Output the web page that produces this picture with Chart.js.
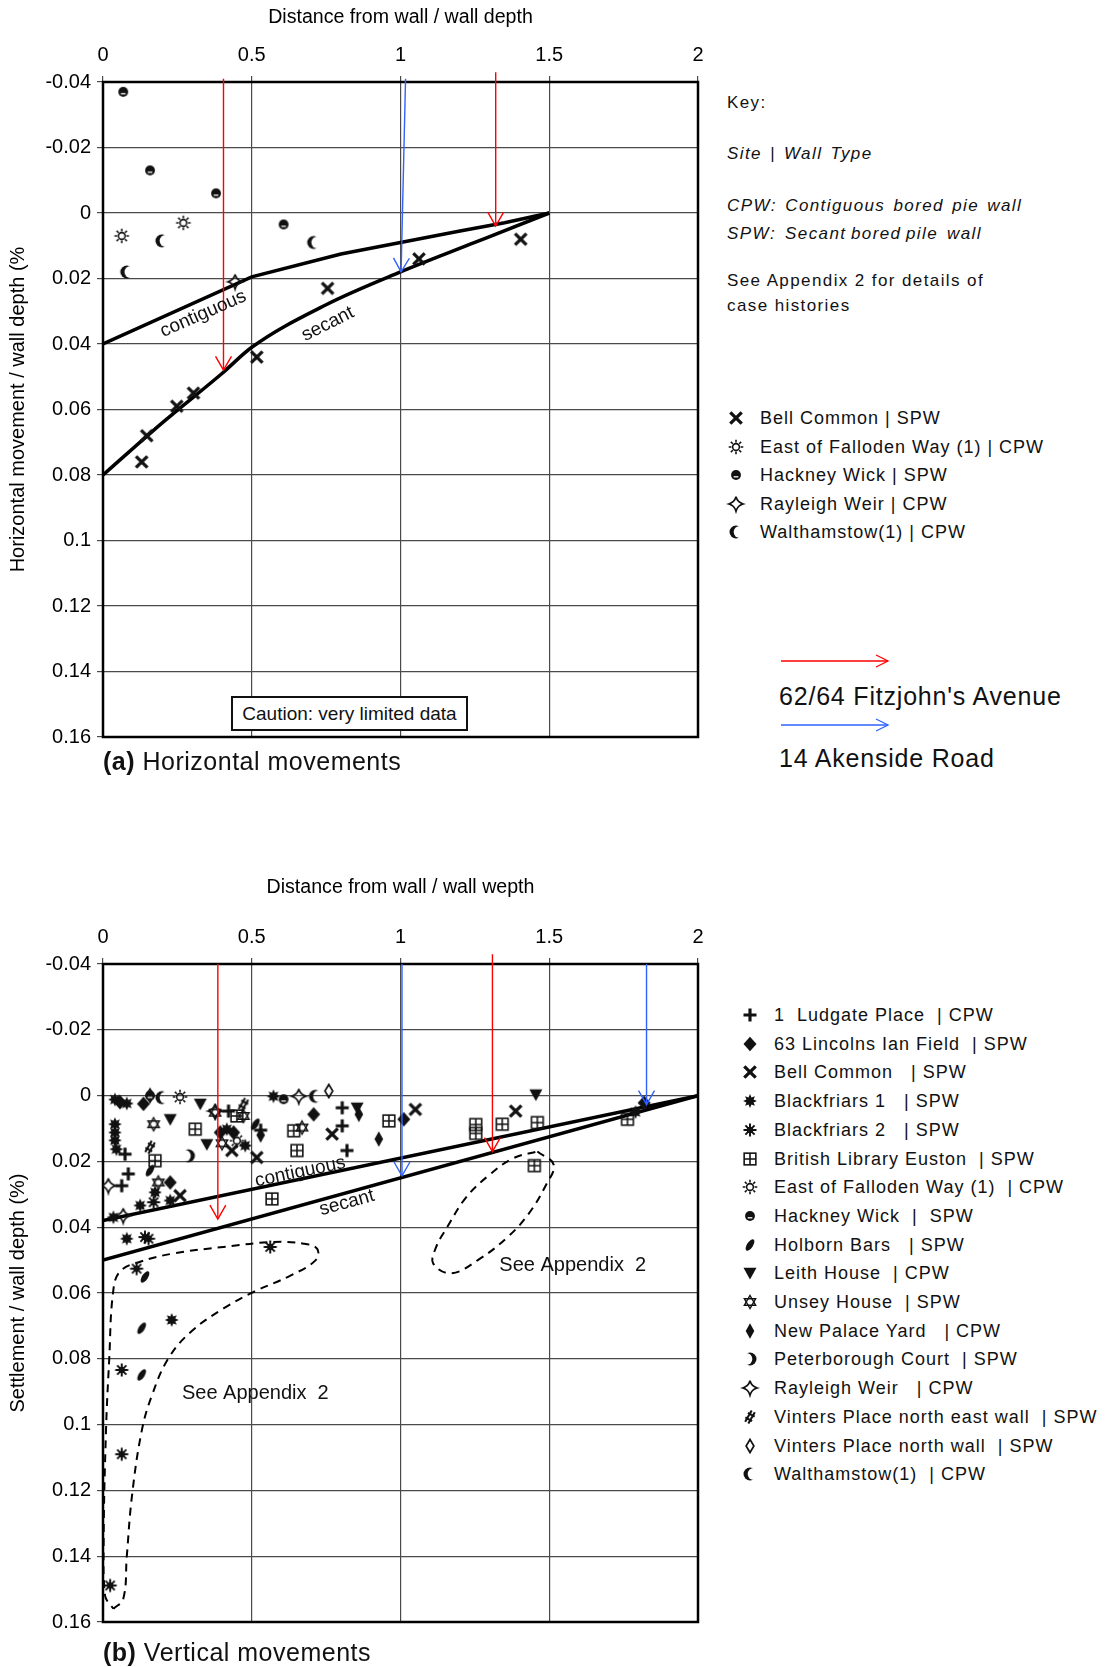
<!DOCTYPE html>
<html>
<head>
<meta charset="utf-8">
<script src="https://cdn.jsdelivr.net/npm/chart.js@4.4.1/dist/chart.umd.min.js"></script>
<style>
  body { margin: 0; background: #fff; font-family: 'Liberation Sans', Arial, sans-serif; color: #111; }
  #page { position: relative; width: 1109px; height: 1667px; overflow: hidden; background: #fff; }
  canvas.plot { position: absolute; left: 0; }
  .txt { position: absolute; white-space: pre; line-height: 1; }
  .key { font-size: 17px; letter-spacing: 1.4px; }
  .it { font-style: italic; }
  .item { position: absolute; white-space: pre; font-size: 18px; line-height: 1; letter-spacing: 1px; }
  .item img { position: absolute; left: -24px; top: 50%; transform: translate(-50%, -50%); }
  .panel { font-size: 25px; letter-spacing: 0.5px; }
  .big { font-size: 25px; letter-spacing: 0.8px; }
  .caution { position: absolute; left: 231px; top: 696px; width: 233px; height: 31px; border: 2px solid #111;
             background: #fff; font-size: 19px; line-height: 31px; text-align: center; }
</style>
</head>
<body>
<div id="page">
  <canvas id="chartA" class="plot" width="720" height="755" style="top:0"></canvas>
  <canvas id="chartB" class="plot" width="720" height="770" style="top:870px"></canvas>

  <div class="caution">Caution: very limited data</div>

  <div class="txt panel" style="left:103px; top:749px"><b>(a)</b> Horizontal movements</div>
  <div class="txt panel" style="left:103px; top:1640px"><b>(b)</b> Vertical movements</div>

  <div class="txt key" style="left:727px; top:94px">Key:</div>
  <div class="txt key it" style="left:727px; top:145px; word-spacing:2px">Site | Wall Type</div>
  <div class="txt key it" style="left:727px; top:197px; word-spacing:-2px">CPW:  Contiguous  bored  pie  wall</div>
  <div class="txt key it" style="left:727px; top:225px; word-spacing:-1.6px">SPW:  Secant bored pile  wall</div>
  <div class="txt key" style="left:727px; top:272px">See Appendix 2 for details of</div>
  <div class="txt key" style="left:727px; top:297px">case histories</div>

  <svg style="position:absolute; left:770px; top:650px" width="130" height="90">
    <line x1="11" y1="11" x2="118" y2="11" stroke="#ff0000" stroke-width="1.3"/>
    <polyline points="106,5 118,11 106,17" fill="none" stroke="#ff0000" stroke-width="1.3"/>
    <line x1="11" y1="75" x2="118" y2="75" stroke="#2f62ff" stroke-width="1.3"/>
    <polyline points="106,69 118,75 106,81" fill="none" stroke="#2f62ff" stroke-width="1.3"/>
  </svg>
  <div class="txt big" style="left:779px; top:684px">62/64 Fitzjohn's Avenue</div>
  <div class="txt big" style="left:779px; top:746px">14 Akenside Road</div>

  <div id="legendA"></div>
  <div id="legendB"></div>
</div>

<script>
// ---- panel (a): horizontal movements ----
const topNames = ['Bell Common | SPW', 'East of Falloden Way (1) | CPW', 'Hackney Wick | SPW', 'Rayleigh Weir | CPW', 'Walthamstow(1) | CPW'];
const topBellCommon = [[0.755, 0.023], [1.062, 0.014], [1.404, 0.008], [0.517, 0.044], [0.304, 0.055], [0.248, 0.059], [0.147, 0.068], [0.13, 0.076]];
const topFalloden = [[0.063, 0.007], [0.27, 0.003]];
const topHackney = [[0.068, -0.037], [0.158, -0.013], [0.38, -0.006], [0.607, 0.0035]];
const topRayleigh = [[0.444, 0.021]];
const topWalthamstow = [[0.198, 0.0085], [0.08, 0.018], [0.708, 0.009]];
const topContiguous = [[0, 0.04], [0.5, 0.0195], [0.8, 0.0125], [1.0, 0.009], [1.2, 0.0055], [1.35, 0.003], [1.5, 0]];
const topSecant = [[0, 0.08], [0.2, 0.064], [0.4, 0.049], [0.5, 0.041], [0.75, 0.028], [1.0, 0.018], [1.25, 0.009], [1.5, 0]];
const topRedArrows = [[[0.405, -0.041], [0.405, 0.048]], [[1.32, -0.043], [1.32, 0.004]]];
const topBlueArrows = [[[1.017, -0.041], [1.002, 0.018]]];

// ---- panel (b): vertical movements ----
const botNames = ['1  Ludgate Place  | CPW', '63 Lincolns Ian Field  | SPW', 'Bell Common   | SPW', 'Blackfriars 1   | SPW',
  'Blackfriars 2   | SPW', 'British Library Euston  | SPW', 'East of Falloden Way (1)  | CPW', 'Hackney Wick  |  SPW',
  'Holborn Bars   | SPW', 'Leith House  | CPW', 'Unsey House  | SPW', 'New Palace Yard   | CPW', 'Peterborough Court  | SPW',
  'Rayleigh Weir   | CPW', 'Vinters Place north east wall  | SPW', 'Vinters Place north wall  | SPW', 'Walthamstow(1)  | CPW'];
const botLudgate = [[0.074, 0.0178], [0.085, 0.0238], [0.063, 0.0274], [0.422, 0.0047], [0.804, 0.0037], [0.804, 0.0092], [0.82, 0.0167], [0.53, 0.0105]];
const botLincolns = [[0.226, 0.0264], [0.708, 0.0057], [1.011, 0.0072], [0.394, 0.0112], [0.439, 0.0112], [0.136, 0.0025], [0.057, 0.002], [1.819, 0.0022]];
const botBellCommon = [[0.259, 0.0304], [0.77, 0.0117], [1.05, 0.0042], [1.387, 0.0047], [0.517, 0.0188], [0.433, 0.0167]];
const botBlackfriars1 = [[0.04, 0.0012], [0.08, 0.0024], [0.04, 0.0087], [0.04, 0.0112], [0.04, 0.0136], [0.045, 0.0163], [0.125, 0.0334],
  [0.175, 0.0294], [0.226, 0.0319], [0.08, 0.0435], [0.231, 0.0682], [0.416, 0.0102], [0.478, 0.0152], [0.573, 0.0002], [1.79, 0.005], [0.035, 0.037]];
const botBlackfriars2 = [[0.153, 0.0435], [0.113, 0.0526], [0.562, 0.046], [0.063, 0.0834], [0.063, 0.109], [0.024, 0.1489], [0.17, 0.0324], [0.141, 0.043]];
const botBritishLib = [[0.31, 0.0102], [0.45, 0.0062], [0.175, 0.0198], [0.641, 0.0107], [0.652, 0.0167], [0.568, 0.0314], [0.961, 0.0077],
  [1.253, 0.0088], [1.253, 0.0115], [1.342, 0.0087], [1.46, 0.0082], [1.45, 0.0213], [1.763, 0.0072]];
const botFalloden = [[0.259, 0.0004], [0.45, 0.0137]];
const botHackney = [[0.607, 0.0011], [0.158, 0.0]];
const botHolborn = [[0.13, 0.0707], [0.13, 0.0849], [0.141, 0.0551], [0.512, 0.0087], [0.158, 0.0228]];
const botLeith = [[0.327, 0.0025], [0.226, 0.0072], [0.349, 0.0148], [1.455, -0.0003], [0.854, 0.0037]];
const botUnsey = [[0.186, 0.0264], [0.472, 0.0062], [0.17, 0.0087], [0.669, 0.0097], [0.377, 0.0052], [0.4, 0.0145]];
const botNewPalace = [[0.927, 0.0132], [0.86, 0.0057], [0.53, 0.012]];
const botPeterborough = [[0.287, 0.0183]];
const botRayleigh = [[0.018, 0.0274], [0.068, 0.0365], [0.658, 0.0002], [0.377, 0.0047]];
const botVintersNE = [[0.158, 0.0157], [0.472, 0.0027]];
const botVintersN = [[0.759, -0.0014], [0.158, 0.0]];
const botWalthamstow = [[0.198, 0.0006], [0.714, 0.0002]];
const botContiguous = [[0, 0.038], [2, 0]];
const botSecant = [[0, 0.05], [2, 0]];
const botBigLoop = [[0.035, 0.156], [0.068, 0.153], [0.08, 0.14], [0.097, 0.122], [0.13, 0.102], [0.165, 0.091], [0.219, 0.08], [0.293, 0.072],
  [0.405, 0.0647], [0.506, 0.0597], [0.63, 0.0547], [0.715, 0.05], [0.72, 0.0466], [0.675, 0.045], [0.573, 0.0445], [0.405, 0.046],
  [0.236, 0.048], [0.125, 0.0505], [0.057, 0.0535], [0.034, 0.0597], [0.021, 0.08], [0.01, 0.102], [0.002, 0.137], [0.007, 0.152], [0.035, 0.156]];
const botSmallLoop = [[1.46, 0.017], [1.515, 0.021], [1.49, 0.027], [1.43, 0.036], [1.36, 0.043], [1.26, 0.05], [1.17, 0.054], [1.11, 0.051],
  [1.12, 0.046], [1.157, 0.04], [1.22, 0.031], [1.3, 0.024], [1.38, 0.019], [1.46, 0.017]];
const botRedArrows = [[[0.386, -0.04], [0.386, 0.0375]], [[1.309, -0.043], [1.309, 0.017]]];
const botBlueArrows = [[[1.005, -0.04], [1.005, 0.0244]], [[1.827, -0.04], [1.827, 0.0027]]];

const yMin = -0.04, yMax = 0.16, yStep = 0.02;
const xMin = 0, xMax = 2, xStep = 0.5;

// ---- marker glyphs ----
function glyph(fn, size = 20, k = 1.3) {
  const c = document.createElement('canvas');
  c.width = size; c.height = size;
  const g = c.getContext('2d');
  g.translate(size / 2, size / 2);
  g.scale(k, k);
  g.fillStyle = '#111'; g.strokeStyle = '#111';
  fn(g);
  return c;
}
function poly(g, pts, fill) {
  g.beginPath();
  pts.forEach((p, i) => i ? g.lineTo(p[0], p[1]) : g.moveTo(p[0], p[1]));
  g.closePath();
  fill ? g.fill() : g.stroke();
}
const G = {
  xcross: glyph(g => { g.lineWidth = 2.5; g.beginPath(); g.moveTo(-4.4, -4.4); g.lineTo(4.4, 4.4); g.moveTo(-4.4, 4.4); g.lineTo(4.4, -4.4); g.stroke(); }),
  plus: glyph(g => { g.lineWidth = 2.4; g.beginPath(); g.moveTo(-5, 0); g.lineTo(5, 0); g.moveTo(0, -5); g.lineTo(0, 5); g.stroke(); }),
  diamond: glyph(g => poly(g, [[0, -5.5], [5, 0], [0, 5.5], [-5, 0]], true)),
  star8: glyph(g => {
    const pts = [];
    for (let i = 0; i < 16; i++) { const r = i % 2 ? 3 : 5.3, a = i * Math.PI / 8 - Math.PI / 2; pts.push([r * Math.cos(a), r * Math.sin(a)]); }
    poly(g, pts, true);
  }),
  asterisk: glyph(g => {
    g.lineWidth = 1.5; g.beginPath();
    for (let i = 0; i < 4; i++) { const a = i * Math.PI / 4; g.moveTo(-5 * Math.cos(a), -5 * Math.sin(a)); g.lineTo(5 * Math.cos(a), 5 * Math.sin(a)); }
    g.stroke(); g.beginPath(); g.arc(0, 0, 2.5, 0, Math.PI * 2); g.fill();
  }),
  grid: glyph(g => { g.lineWidth = 1.2; g.strokeRect(-4.5, -4.5, 9, 9); g.beginPath(); g.moveTo(-4.5, 0); g.lineTo(4.5, 0); g.moveTo(0, -4.5); g.lineTo(0, 4.5); g.stroke(); }),
  sun: glyph(g => {
    g.lineWidth = 1.2; g.beginPath(); g.arc(0, 0, 2.6, 0, Math.PI * 2); g.stroke();
    g.beginPath();
    for (let i = 0; i < 8; i++) { const a = i * Math.PI / 4; g.moveTo(3.5 * Math.cos(a), 3.5 * Math.sin(a)); g.lineTo(5.6 * Math.cos(a), 5.6 * Math.sin(a)); }
    g.stroke();
  }),
  dot: glyph(g => { g.beginPath(); g.arc(0, 0, 3.8, 0, Math.PI * 2); g.fill(); g.fillStyle = '#fff'; g.fillRect(-1.8, 0.9, 3.6, 1); }),
  slant: glyph(g => { g.rotate(-Math.PI / 3.2); g.beginPath(); g.ellipse(0, 0, 5, 2.3, 0, 0, Math.PI * 2); g.fill(); }),
  triDown: glyph(g => poly(g, [[-5, -4], [5, -4], [0, 5]], true)),
  david: glyph(g => {
    g.lineWidth = 1.1;
    const t = s => [0, 1, 2].map(i => { const a = s + i * 2 * Math.PI / 3; return [5 * Math.cos(a), 5 * Math.sin(a)]; });
    poly(g, t(-Math.PI / 2), false); poly(g, t(Math.PI / 2), false);
  }),
  narrowDiamond: glyph(g => poly(g, [[0, -6], [3.3, 0], [0, 6], [-3.3, 0]], true)),
  crescentR: glyph(g => {
    g.beginPath(); g.arc(0, 0, 5, 0, Math.PI * 2); g.fill();
    g.globalCompositeOperation = 'destination-out'; g.beginPath(); g.arc(-2.8, 0, 4.6, 0, Math.PI * 2); g.fill();
  }),
  crescentL: glyph(g => {
    g.beginPath(); g.arc(0, 0, 5, 0, Math.PI * 2); g.fill();
    g.globalCompositeOperation = 'destination-out'; g.beginPath(); g.arc(2.8, 0, 4.6, 0, Math.PI * 2); g.fill();
  }),
  sparkle: glyph(g => {
    g.lineWidth = 1.3; g.beginPath(); g.moveTo(0, -5.5);
    g.quadraticCurveTo(1.2, -1.2, 5.5, 0); g.quadraticCurveTo(1.2, 1.2, 0, 5.5);
    g.quadraticCurveTo(-1.2, 1.2, -5.5, 0); g.quadraticCurveTo(-1.2, -1.2, 0, -5.5); g.stroke();
  }),
  hatch: glyph(g => {
    g.rotate(-Math.PI / 3); g.lineWidth = 1.6; g.beginPath();
    g.moveTo(-5, -1.4); g.lineTo(5, -1.4); g.moveTo(-5, 1.4); g.lineTo(5, 1.4);
    g.moveTo(-2, -3); g.lineTo(-2, 3); g.moveTo(2, -3); g.lineTo(2, 3); g.stroke();
  }),
  smallDiamond: glyph(g => { g.lineWidth = 1.3; poly(g, [[0, -5], [3, 0], [0, 5], [-3, 0]], false); })
};

const topGlyphs = [G.xcross, G.sun, G.dot, G.sparkle, G.crescentL];
const topSeries = [topBellCommon, topFalloden, topHackney, topRayleigh, topWalthamstow];
const botGlyphs = [G.plus, G.diamond, G.xcross, G.star8, G.asterisk, G.grid, G.sun, G.dot, G.slant, G.triDown, G.david,
  G.narrowDiamond, G.crescentR, G.sparkle, G.hatch, G.smallDiamond, G.crescentL];
const botSeries = [botLudgate, botLincolns, botBellCommon, botBlackfriars1, botBlackfriars2, botBritishLib, botFalloden, botHackney,
  botHolborn, botLeith, botUnsey, botNewPalace, botPeterborough, botRayleigh, botVintersNE, botVintersN, botWalthamstow];

const pts = arr => arr.map(p => ({ x: p[0], y: p[1] }));

function scatterSets(names, series, glyphs) {
  return series.map((s, i) => ({
    label: names[i], data: pts(s), pointStyle: glyphs[i], pointRadius: 5, showLine: false, order: 1
  }));
}
function curve(data, extra) {
  return Object.assign({ data: pts(data), showLine: true, pointRadius: 0, borderColor: '#000', borderWidth: 3.5, fill: false, order: 2 }, extra);
}
function arrows(list, color) {
  return list.map(a => ({ data: pts(a), showLine: true, pointRadius: 0, borderColor: color, borderWidth: 1.4, clip: false, arrowHead: color, order: 0 }));
}

// arrowheads at the end of arrow datasets
const arrowPlugin = {
  id: 'arrowHeads',
  afterDatasetsDraw(chart) {
    const ctx = chart.ctx;
    chart.data.datasets.forEach((ds, i) => {
      if (!ds.arrowHead) return;
      const el = chart.getDatasetMeta(i).data;
      const p0 = el[el.length - 2], p1 = el[el.length - 1];
      const a = Math.atan2(p1.y - p0.y, p1.x - p0.x);
      ctx.save();
      ctx.strokeStyle = ds.arrowHead; ctx.lineWidth = 1.4;
      ctx.beginPath();
      ctx.moveTo(p1.x - 16 * Math.cos(a - 0.52), p1.y - 16 * Math.sin(a - 0.52));
      ctx.lineTo(p1.x, p1.y);
      ctx.lineTo(p1.x - 16 * Math.cos(a + 0.52), p1.y - 16 * Math.sin(a + 0.52));
      ctx.stroke();
      ctx.restore();
    });
  }
};

// plot frame
const framePlugin = {
  id: 'frame',
  beforeDatasetsDraw(chart) {
    const { ctx, chartArea: c } = chart;
    ctx.save();
    ctx.strokeStyle = '#000'; ctx.lineWidth = 2.5;
    ctx.strokeRect(c.left, c.top, c.right - c.left, c.bottom - c.top);
    ctx.restore();
  }
};

// text labels placed in data space
const textPlugin = {
  id: 'dataText',
  afterDatasetsDraw(chart, args, opts) {
    const { ctx, scales: { x, y } } = chart;
    (opts.items || []).forEach(t => {
      let ang = 0;
      if (t.along) {
        const [x1, y1, x2, y2] = t.along;
        ang = Math.atan2(y.getPixelForValue(y2) - y.getPixelForValue(y1), x.getPixelForValue(x2) - x.getPixelForValue(x1));
      }
      ctx.save();
      ctx.translate(x.getPixelForValue(t.x), y.getPixelForValue(t.y));
      ctx.rotate(ang);
      ctx.font = (t.size || 16) + "px 'Liberation Sans', Arial, sans-serif";
      ctx.fillStyle = '#111';
      ctx.textAlign = 'center'; ctx.textBaseline = 'middle';
      ctx.fillText(t.text, 0, 0);
      ctx.restore();
    });
  }
};

const fmt = v => String(parseFloat(Number(v).toFixed(2)));

function makeChart(id, datasets, xTitle, yTitle, topBox, bottomPad, labels) {
  return new Chart(document.getElementById(id), {
    type: 'scatter',
    data: { datasets },
    plugins: [framePlugin, arrowPlugin, textPlugin],
    options: {
      responsive: false, animation: false, devicePixelRatio: 1,
      events: [],
      layout: { padding: { left: 0, top: 0, right: 22, bottom: bottomPad } },
      plugins: { legend: { display: false }, tooltip: { enabled: false }, dataText: { items: labels } },
      scales: {
        x: {
          type: 'linear', position: 'top', min: xMin, max: xMax,
          afterFit: s => { s.height = topBox; },
          ticks: { stepSize: xStep, padding: 9, color: '#000', font: { family: 'Liberation Sans', size: 20 }, callback: fmt },
          grid: { color: '#4a4a4a', lineWidth: 1.2, tickLength: 6 },
          border: { display: false },
          title: { display: true, text: xTitle, color: '#000', font: { family: 'Liberation Sans', size: 19.6 }, padding: { top: 6, bottom: 0 } }
        },
        y: {
          type: 'linear', reverse: true, min: yMin, max: yMax,
          afterFit: s => { s.width = 103; },
          ticks: { stepSize: yStep, padding: 6, color: '#000', font: { family: 'Liberation Sans', size: 20 }, callback: fmt },
          grid: { color: '#4a4a4a', lineWidth: 1.2, tickLength: 6 },
          border: { display: false },
          title: { display: true, text: yTitle, color: '#000', font: { family: 'Liberation Sans', size: 20 }, padding: { top: 6, bottom: 0 } }
        }
      }
    }
  });
}

const datasetsA = [
  ...scatterSets(topNames, topSeries, topGlyphs),
  curve(topContiguous),
  curve(topSecant, { cubicInterpolationMode: 'monotone' }),
  ...arrows(topRedArrows, '#ff0000'),
  ...arrows(topBlueArrows, '#2f62ff')
];
makeChart('chartA', datasetsA, 'Distance from wall / wall depth', 'Horizontal movement / wall depth (%', 82, 15, [
  { text: 'contiguous', x: 0.337, y: 0.0308, along: [0, 0.04, 0.5, 0.02], size: 19 },
  { text: 'secant', x: 0.756, y: 0.0339, along: [0.5, 0.041, 1.0, 0.018], size: 19 }
]);

const datasetsB = [
  ...scatterSets(botNames, botSeries, botGlyphs),
  curve(botContiguous),
  curve(botSecant),
  curve(botBigLoop, { borderWidth: 2, borderDash: [8, 6], tension: 0.4 }),
  curve(botSmallLoop, { borderWidth: 2, borderDash: [8, 6], tension: 0.4 }),
  ...arrows(botRedArrows, '#ff0000'),
  ...arrows(botBlueArrows, '#2f62ff')
];
makeChart('chartB', datasetsB, 'Distance from wall / wall wepth', 'Settlement / wall depth (%)', 94, 15, [
  { text: 'contiguous', x: 0.663, y: 0.0232, along: [0, 0.038, 2, 0], size: 19 },
  { text: 'secant', x: 0.82, y: 0.0326, along: [0, 0.05, 2, 0], size: 19 },
  { text: 'See Appendix  2', x: 0.512, y: 0.0904, size: 20 },
  { text: 'See Appendix  2', x: 1.579, y: 0.0517, size: 20 }
]);

// ---- HTML legends ----
function buildLegend(id, names, glyphs, left, top, step) {
  const box = document.getElementById(id);
  names.forEach((n, i) => {
    const d = document.createElement('div');
    d.className = 'item';
    d.style.left = left + 'px';
    d.style.top = (top + i * step - 9) + 'px';
    const img = document.createElement('img');
    img.src = glyphs[i].toDataURL();
    d.appendChild(img);
    d.appendChild(document.createTextNode(n));
    box.appendChild(d);
  });
}
buildLegend('legendA', topNames, topGlyphs, 760, 418, 28.6);
buildLegend('legendB', botNames, botGlyphs, 774, 1015, 28.7);
</script>
</body>
</html>
